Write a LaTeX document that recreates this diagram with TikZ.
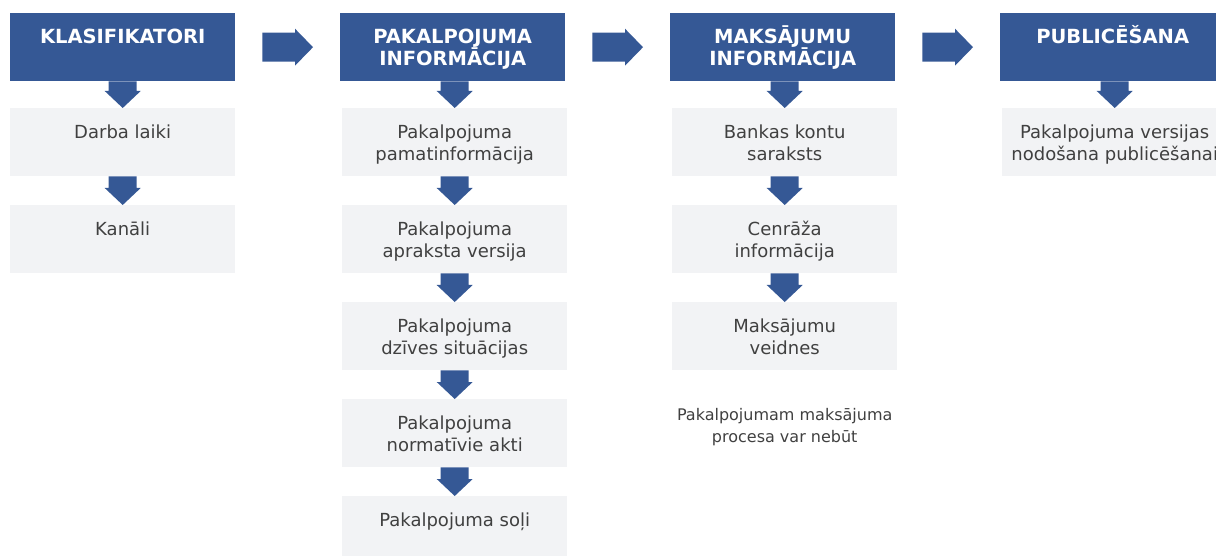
\documentclass[tikz,border=0pt]{standalone}
\usepackage{fontspec}
\setmainfont{DejaVu Sans}
\usetikzlibrary{calc}
\definecolor{hdrblue}{HTML}{355895}
\definecolor{boxgray}{HTML}{F2F3F5}
\definecolor{txtgray}{HTML}{404040}
% block arrow down from node #1 to node #2
\newcommand\bdarr[2]{\fill[hdrblue]
  ($(#2.north |- #1.south)+(-14,0)$) -- ($(#2.north |- #1.south)+(14,0)$) --
  ($(#2.north)+(14,-17)$) -- ($(#2.north)+(18,-17)$) -- (#2.north) --
  ($(#2.north)+(-18,-17)$) -- ($(#2.north)+(-14,-17)$) -- cycle;}
% block arrow right from node #1 to node #2
\newcommand\brarr[2]{\fill[hdrblue]
  ($(#1.east)+(27,-14.5)$) -- ($(#2.west |- #1.east)+(-45,-14.5)$) --
  ($(#2.west |- #1.east)+(-45,-18.5)$) -- ($(#2.west |- #1.east)+(-27,0)$) --
  ($(#2.west |- #1.east)+(-45,18.5)$) -- ($(#2.west |- #1.east)+(-45,14.5)$) --
  ($(#1.east)+(27,14.5)$) -- cycle;}
\newcommand\fl[1]{\rule{0pt}{#1pt}}
\begin{document}
\begin{tikzpicture}[x=1pt,y=-1pt,
  hdr/.style={fill=hdrblue, minimum width=225pt, minimum height=68pt, inner sep=0pt, anchor=north west},
  gbox/.style={fill=boxgray, minimum width=225pt, minimum height=68pt, inner sep=0pt, anchor=north west},
  htext/.style={anchor=north, inner sep=0pt, align=center, text=white, font=\bfseries\fontsize{19.5}{22}\selectfont},
  btext/.style={anchor=north, inner sep=0pt, align=center, text=txtgray, font=\fontsize{18}{22}\selectfont},
  ntext/.style={anchor=north, inner sep=0pt, align=center, text=txtgray, font=\fontsize{16}{22}\selectfont}]
\clip (0,0) rectangle (1216,556);
% headers
\node[hdr] (h1) at (10,13) {};
\node[hdr] (h2) at (340,13) {};
\node[hdr] (h3) at (670,13) {};
\node[hdr] (h4) at (1000,13) {};
\node[htext] (h1t) at ($(h1.north)+(0,12)$) {\fl{18}KLASIFIKATORI};
\node[htext] (h2t) at ($(h2.north)+(0,12)$) {\fl{18}PAKALPOJUMA\\INFORMĀCIJA};
\node[htext] (h3t) at ($(h3.north)+(0,12)$) {\fl{18}MAKSĀJUMU\\INFORMĀCIJA};
\node[htext] (h4t) at ($(h4.north)+(0,12)$) {\fl{18}PUBLICĒŠANA};
% column 1
\node[gbox] (a1) at (10,108) {};
\node[gbox] (a2) at (10,205) {};
\node[btext] (a1t) at ($(a1.north)+(0,12)$) {\fl{18}Darba laiki};
\node[btext] (a2t) at ($(a2.north)+(0,12)$) {\fl{18}Kanāli};
% column 2
\node[gbox] (b1) at (342,108) {};
\node[gbox] (b2) at (342,205) {};
\node[gbox] (b3) at (342,302) {};
\node[gbox] (b4) at (342,399) {};
\node[gbox] (b5) at (342,496) {};
\node[btext] (b1t) at ($(b1.north)+(0,12)$) {\fl{18}Pakalpojuma\\pamatinformācija};
\node[btext] (b2t) at ($(b2.north)+(0,12)$) {\fl{18}Pakalpojuma\\apraksta versija};
\node[btext] (b3t) at ($(b3.north)+(0,12)$) {\fl{18}Pakalpojuma\\dzīves situācijas};
\node[btext] (b4t) at ($(b4.north)+(0,12)$) {\fl{18}Pakalpojuma\\normatīvie akti};
\node[btext] (b5t) at ($(b5.north)+(0,12)$) {\fl{18}Pakalpojuma soļi};
% column 3
\node[gbox] (c1) at (672,108) {};
\node[gbox] (c2) at (672,205) {};
\node[gbox] (c3) at (672,302) {};
\node[btext] (c1t) at ($(c1.north)+(0,12)$) {\fl{18}Bankas kontu\\saraksts};
\node[btext] (c2t) at ($(c2.north)+(0,12)$) {\fl{18}Cenrāža\\informācija};
\node[btext] (c3t) at ($(c3.north)+(0,12)$) {\fl{18}Maksājumu\\veidnes};
\node[ntext] (note) at ($(c3.south)+(0,34)$) {\fl{16}Pakalpojumam maksājuma\\procesa var nebūt};
% column 4
\node[gbox] (d1) at (1002,108) {};
\node[btext] (d1t) at ($(d1.north)+(0,12)$) {\fl{18}Pakalpojuma versijas\\nodošana publicēšanai};
% down arrows
\bdarr{h1}{a1}
\bdarr{a1}{a2}
\bdarr{h2}{b1}
\bdarr{b1}{b2}
\bdarr{b2}{b3}
\bdarr{b3}{b4}
\bdarr{b4}{b5}
\bdarr{h3}{c1}
\bdarr{c1}{c2}
\bdarr{c2}{c3}
\bdarr{h4}{d1}
% right arrows
\brarr{h1}{h2}
\brarr{h2}{h3}
\brarr{h3}{h4}
\end{tikzpicture}
\end{document}
